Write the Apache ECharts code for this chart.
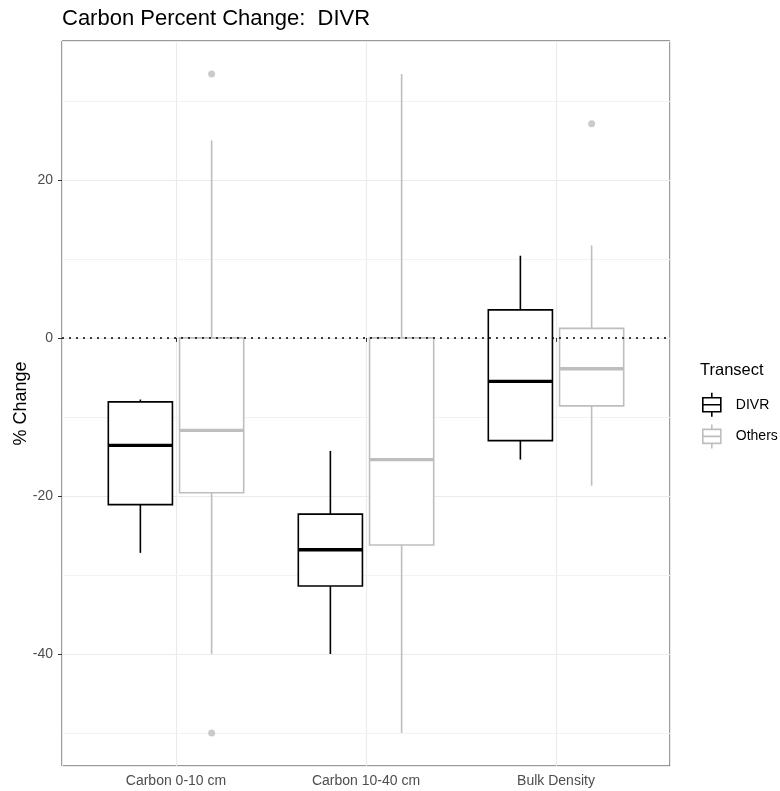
<!DOCTYPE html>
<html>
<head>
<meta charset="utf-8">
<script src="https://cdn.jsdelivr.net/npm/echarts@6.0.0/dist/echarts.min.js"></script>
<style>html,body{margin:0;padding:0;background:#fff;}#chart{width:780px;height:791px;}</style>
</head>
<body>
<div id="chart"></div>
<script>
// ---- data ----
const categories = ['Carbon 0-10 cm', 'Carbon 10-40 cm', 'Bulk Density'];
const seriesNames = ['DIVR', 'Others'];
// [lower whisker, Q1, median, Q3, upper whisker]
const divrStats = [
  [-27.2, -21.1, -13.6, -8.1, -7.8],
  [-40.0, -31.4, -26.8, -22.3, -14.3],
  [-15.4, -13.0, -5.5, 3.55, 10.4]
];
const othersStats = [
  [-40.0, -19.6, -11.7, 0.0, 25.0],
  [-50.0, -26.2, -15.4, 0.0, 33.4],
  [-18.7, -8.6, -3.9, 1.2, 11.7]
];
// [category index (0-based), value]
const othersOutliers = [[0, 33.4], [0, -50.0], [2, 27.1]];
const yTickValues = [-40, -20, 0, 20];
const yMinorValues = [-50, -30, -10, 10, 30];
const refLineValue = 0;
const yRange = [-54.17, 37.57];

// ---- layout helpers ----
const dodge = 0.1875;
const boxW = 0.3375;
const FONT = 'Liberation Sans, Arial, sans-serif';

function buildBoxData(stats, off) {
  return stats.map((s, i) => [i + 1 + off].concat(s));
}

function boxRender(color, lw, medW) {
  return function (params, api) {
    const x = api.value(0);
    const lo = api.coord([x, api.value(1)]);
    const q1 = api.coord([x, api.value(2)]);
    const md = api.coord([x, api.value(3)]);
    const q3 = api.coord([x, api.value(4)]);
    const hi = api.coord([x, api.value(5)]);
    const w = api.size([boxW, 0])[0];
    const xl = q1[0] - w / 2, xr = q1[0] + w / 2;
    const st = { stroke: color, lineWidth: lw, fill: null };
    return {
      type: 'group',
      children: [
        { type: 'line', shape: { x1: hi[0], y1: hi[1], x2: q3[0], y2: q3[1] }, style: st },
        { type: 'line', shape: { x1: q1[0], y1: q1[1], x2: lo[0], y2: lo[1] }, style: st },
        { type: 'rect', shape: { x: xl, y: q3[1], width: w, height: q1[1] - q3[1] },
          style: { stroke: color, lineWidth: lw, fill: '#fff' } },
        { type: 'line', shape: { x1: xl, y1: md[1], x2: xr, y2: md[1] },
          style: { stroke: color, lineWidth: medW } }
      ]
    };
  };
}

const chart = echarts.init(document.getElementById('chart'), null, { renderer: 'canvas' });
const icon = 'path://M10,0L10,5M1,5L19,5L19,19L1,19ZM1,12L19,12M10,19L10,24';
const divrColor = '#000000';
const othersColor = '#BEBEBE';

chart.setOption({
  animation: false,
  backgroundColor: '#fff',
  textStyle: { fontFamily: FONT },
  title: [
    { text: 'Carbon Percent Change:  DIVR', left: 62, top: 8, padding: 0,
      textStyle: { fontSize: 22, fontWeight: 'normal', color: '#000', fontFamily: FONT } },
    { text: 'Transect', left: 700, top: 362, padding: 0,
      textStyle: { fontSize: 16.5, fontWeight: 'normal', color: '#000', fontFamily: FONT } }
  ],
  legend: {
    orient: 'vertical',
    left: 702, top: 392,
    itemWidth: 22, itemHeight: 24, itemGap: 6,
    padding: 0,
    selectedMode: false,
    textStyle: { fontSize: 14, color: '#000', fontFamily: FONT, padding: [0, 0, 0, 8] },
    data: [
      { name: 'DIVR', icon: icon, itemStyle: { color: '#fff', borderColor: divrColor, borderWidth: 1.6 } },
      { name: 'Others', icon: icon, itemStyle: { color: '#fff', borderColor: othersColor, borderWidth: 1.6 } }
    ]
  },
  grid: {
    left: 62, right: 110, top: 41, bottom: 25,
    outerBoundsMode: 'none', containLabel: false,
    show: true, borderColor: '#333333', borderWidth: 1, backgroundColor: '#fff'
  },
  xAxis: {
    type: 'value', min: 0.4, max: 3.6, splitNumber: 3,
    axisLine: { show: false },
    axisTick: { show: true, length: 4, lineStyle: { color: '#333' } },
    axisLabel: {
      color: '#4D4D4D', fontSize: 14, margin: 8, fontFamily: FONT,
      showMinLabel: false, showMaxLabel: false,
      formatter: function (v) {
        const r = Math.round(v);
        return Math.abs(v - r) < 1e-6 && r >= 1 && r <= categories.length ? categories[r - 1] : '';
      }
    },
    splitLine: { show: true, lineStyle: { color: '#EBEBEB', width: 1.1 } }
  },
  yAxis: {
    type: 'value', min: yRange[0], max: yRange[1], splitNumber: 5,
    name: '% Change', nameLocation: 'middle', nameGap: 32, nameRotate: 90,
    nameMoveOverlap: false,
    nameTextStyle: { fontSize: 18, color: '#000', fontFamily: FONT },
    axisLine: { show: false },
    axisTick: { show: true, length: 4, lineStyle: { color: '#333' } },
    axisLabel: {
      color: '#4D4D4D', fontSize: 14, margin: 9, fontFamily: FONT,
      showMinLabel: false, showMaxLabel: false,
      formatter: function (v) {
        return yTickValues.some(t => Math.abs(t - v) < 1e-6) ? String(Math.round(v)) : '';
      }
    },
    splitLine: { show: true, lineStyle: { color: '#EBEBEB', width: 1.1 } }
  },
  series: [
    {
      name: 'minorGrid', type: 'scatter', data: [], z: 0, silent: true,
      markLine: {
        silent: true, symbol: 'none', animation: false, z: 0,
        label: { show: false },
        lineStyle: { color: '#F2F2F2', width: 1, type: 'solid' },
        data: yMinorValues.map(v => ({ yAxis: v }))
      }
    },
    {
      name: 'DIVR', type: 'custom', z: 3,
      itemStyle: { color: divrColor },
      renderItem: boxRender(divrColor, 1.6, 3.4),
      encode: { x: 0, y: [1, 2, 3, 4, 5] },
      data: buildBoxData(divrStats, -dodge)
    },
    {
      name: 'Others', type: 'custom', z: 3,
      itemStyle: { color: othersColor },
      renderItem: boxRender(othersColor, 1.6, 3.4),
      encode: { x: 0, y: [1, 2, 3, 4, 5] },
      data: buildBoxData(othersStats, dodge)
    },
    {
      name: 'OthersOutliers', type: 'scatter', z: 4,
      symbol: 'circle', symbolSize: 7,
      itemStyle: { color: othersColor },
      data: othersOutliers.map(p => [p[0] + 1 + dodge, p[1]])
    },
    {
      name: 'refLine', type: 'scatter', data: [], z: 5, silent: true,
      markLine: {
        silent: true, symbol: 'none', animation: false, z: 5,
        label: { show: false },
        lineStyle: { color: '#000', width: 1.5, type: [2, 5] },
        data: [{ yAxis: refLineValue }]
      }
    }
  ]
});
</script>
</body>
</html>
